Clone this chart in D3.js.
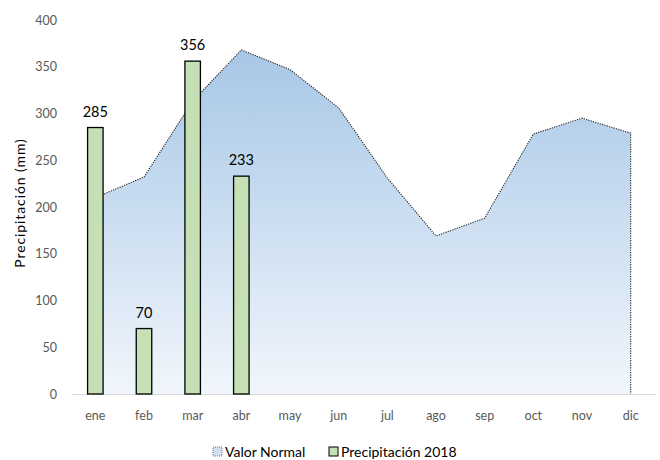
<!DOCTYPE html>
<html><head><meta charset="utf-8">
<script src="https://cdn.jsdelivr.net/npm/d3@7"></script>
<style>body{margin:0;background:#fff}svg{display:block}text{font-family:Lato,"Open Sans",sans-serif}</style>
</head><body><svg id="c" width="660" height="460"></svg>
<script>
const months = ["ene","feb","mar","abr","may","jun","jul","ago","sep","oct","nov","dic"];
const normalValues = [210, 232, 313, 368, 347, 306, 231, 169, 188, 278, 295, 279];
const rain2018 = [285, 70, 356, 233];
const yTicks = [0, 50, 100, 150, 200, 250, 300, 350, 400];
const seriesNames = ["Valor Normal", "Precipitación 2018"];

(function(){
const svg = d3.select("#c");
const mL = 71, mR = 655, mT = 20, mB = 394;
const x = d3.scaleBand().domain(months).range([mL, mR]);
const y = d3.scaleLinear().domain([0, 400]).range([mB, mT]);

const defs = svg.append("defs");
const grad = defs.append("linearGradient").attr("id","g").attr("x1",0).attr("y1",0).attr("x2",0).attr("y2",1);
grad.append("stop").attr("offset","0%").attr("stop-color","#a7c7e6");
grad.append("stop").attr("offset","100%").attr("stop-color","#f1f6fc");

const cx = m => x(m) + x.bandwidth()/2;
const area = d3.area().x((d,i)=>cx(months[i])).y0(y(0)).y1(d=>y(d));
svg.append("path").datum(normalValues).attr("d", area).attr("fill","url(#g)");
const pts = normalValues.map((d,i)=>[cx(months[i]), y(d)]);
pts.push([cx(months[11]), y(0)]);
svg.append("path").attr("d", d3.line()(pts)).attr("fill","none")
  .attr("stroke","#222").attr("stroke-width",1.1).attr("stroke-dasharray","1.2,1.2");

const xAxis = d3.axisBottom(x).tickSize(0).tickPadding(17);
const gx = svg.append("g").attr("transform",`translate(0,${mB})`).call(xAxis);
gx.select(".domain").attr("stroke","#d9d9d9").attr("stroke-width",1);
gx.selectAll("text").attr("fill","#595959").attr("font-size",12.5);

const yAxis = d3.axisLeft(y).tickValues(yTicks).tickSize(0).tickPadding(14);
const gy = svg.append("g").attr("transform",`translate(${mL},0)`).call(yAxis);
gy.select(".domain").remove();
gy.selectAll("text").attr("fill","#595959").attr("font-size",12.5);

const bw = 15.5;
const bars = rain2018.map((v,i)=>({m:months[i], v}));
svg.selectAll("rect.bar").data(bars).join("rect").attr("class","bar")
  .attr("x", d=>cx(d.m)-bw/2).attr("width", bw)
  .attr("y", d=>y(d.v)).attr("height", d=>y(0)-y(d.v))
  .attr("fill","#c5e0b4").attr("stroke","#000").attr("stroke-width",1.3);
svg.selectAll("text.lbl").data(bars).join("text").attr("class","lbl")
  .attr("x", d=>cx(d.m)).attr("y", d=>y(d.v)-11)
  .attr("text-anchor","middle").attr("font-size",14.5).attr("fill","#000").text(d=>d.v);

svg.append("text").attr("transform","translate(25,203) rotate(-90)")
  .attr("text-anchor","middle").attr("font-size",14).attr("letter-spacing",0.9)
  .attr("fill","#000").text("Precipitación (mm)");

const lg = svg.append("g");
lg.append("rect").attr("x",213).attr("y",447).attr("width",9).attr("height",9)
  .attr("fill","#cfe0f3").attr("stroke","#555").attr("stroke-width",0.8).attr("stroke-dasharray","1,1");
lg.append("text").attr("x",225).attr("y",457).attr("font-size",14).attr("fill","#000").text(seriesNames[0]);
lg.append("rect").attr("x",329).attr("y",447).attr("width",9).attr("height",9)
  .attr("fill","#c5e0b4").attr("stroke","#000").attr("stroke-width",1);
lg.append("text").attr("x",341).attr("y",457).attr("font-size",14).attr("fill","#000").text(seriesNames[1]);
})();
</script></body></html>
